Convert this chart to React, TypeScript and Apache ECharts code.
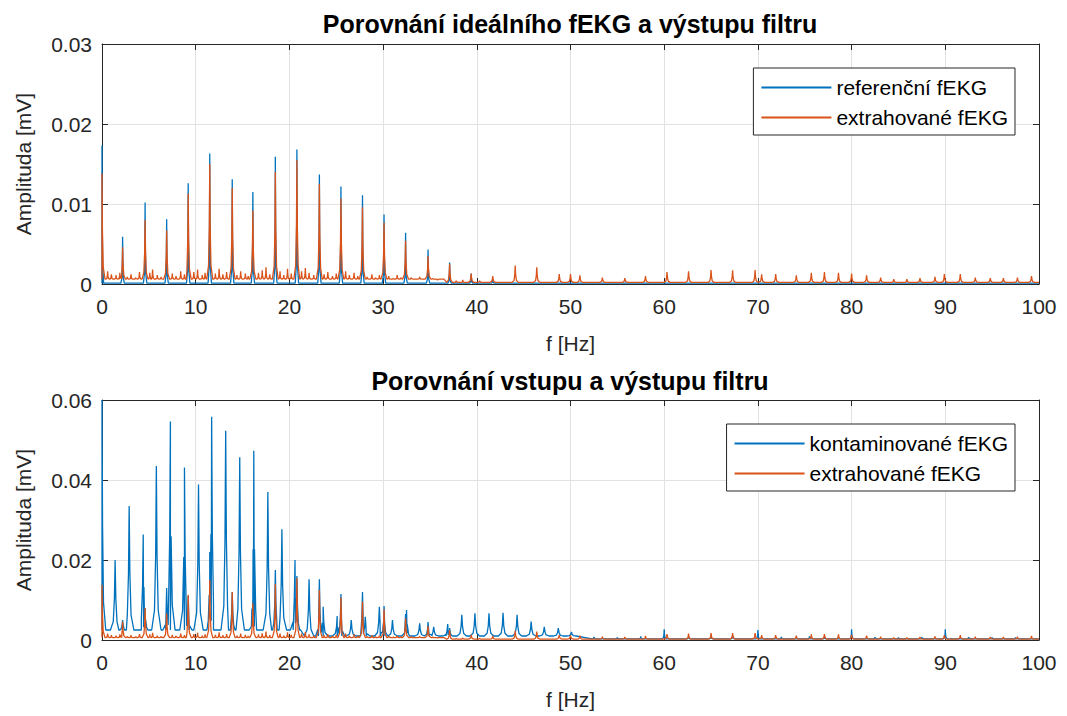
import React, { useEffect, useRef } from "react";
import * as echarts from "echarts";

// ---------- DATA ----------
const titleTop = "Porovnání ideálního fEKG a výstupu filtru";
const titleBottom = "Porovnání vstupu a výstupu filtru";
const xName = "f [Hz]";
const yName = "Amplituda [mV]";
const nameRef = "referenční fEKG";
const nameExt = "extrahované fEKG";
const nameCont = "kontaminované fEKG";

// reference fEKG peaks [Hz, mV]
const refPeaks: number[][] = [
  [0, 0.0173], [2.2, 0.0059], [4.6, 0.0102], [6.9, 0.0081], [9.2, 0.0126], [11.5, 0.0163],
  [13.9, 0.0131], [16.1, 0.0115], [18.5, 0.0159], [20.8, 0.0168], [23.2, 0.0137], [25.5, 0.0122],
  [27.8, 0.0111], [30.1, 0.0087], [32.4, 0.0064], [34.8, 0.0043], [37.1, 0.0027], [39.4, 0.0013],
  [41.7, 0.0006],
];
const refFloor: number[][] = [[100, 0.0001]];

// extracted fEKG peaks
const extPeaks: number[][] = [
  [0, 0.0138], [2.2, 0.0046], [4.6, 0.008], [6.9, 0.0067], [9.2, 0.0113], [11.5, 0.015],
  [13.9, 0.012], [16.1, 0.0092], [18.5, 0.014], [20.8, 0.0155], [23.2, 0.0125], [25.5, 0.0107],
  [27.8, 0.0096], [30.1, 0.0077], [32.4, 0.0054], [34.8, 0.0035], [37.1, 0.0025], [39.4, 0.0013],
  [41.7, 0.001], [44.1, 0.0023], [46.4, 0.0021], [48.8, 0.00125], [50.0, 0.00125], [51.0, 0.0011],
  [53.4, 0.0008], [55.8, 0.00075], [58.0, 0.001], [60.3, 0.0015], [62.6, 0.0016], [65.0, 0.00175],
  [67.3, 0.0017], [69.7, 0.00175], [70.4, 0.0012], [71.9, 0.00125], [74.1, 0.0011], [75.7, 0.0014],
  [77.1, 0.0015], [78.6, 0.0014], [80.0, 0.0013], [81.6, 0.0011], [83.1, 0.0008], [84.5, 0.0006],
  [85.9, 0.0006], [87.3, 0.00075], [88.9, 0.0009], [89.9, 0.00125], [91.6, 0.00125], [93.2, 0.0008],
  [94.8, 0.00075], [96.2, 0.00075], [97.7, 0.0008], [99.2, 0.001],
];
// small bumps of the extracted fEKG's noise floor
const extNoise: number[][] = [
  [0.6, 0.0016], [1.0, 0.0012], [1.5, 0.0011], [1.9, 0.0014], [2.7, 0.0009], [3.1, 0.0012],
  [3.6, 0.0008], [4.0, 0.0015], [5.1, 0.0014], [5.4, 0.0018], [5.9, 0.0011], [6.3, 0.0009],
  [7.5, 0.0013], [7.9, 0.001], [8.4, 0.0016], [8.8, 0.0012], [9.8, 0.0015], [10.2, 0.0018],
  [10.7, 0.0011], [11.0, 0.0014], [12.1, 0.0013], [12.5, 0.0019], [12.9, 0.0012], [13.3, 0.0015],
  [14.4, 0.0011], [14.8, 0.0016], [15.3, 0.0013], [15.6, 0.001], [16.7, 0.0014], [17.1, 0.0017],
  [17.5, 0.0021], [17.9, 0.0012], [19.0, 0.0016], [19.4, 0.0011], [19.8, 0.0019], [20.2, 0.0013],
  [21.3, 0.0016], [21.7, 0.002], [22.1, 0.0014], [22.6, 0.0011], [23.7, 0.0012], [24.1, 0.0015],
  [24.6, 0.001], [25.0, 0.0013], [26.0, 0.0016], [26.4, 0.0011], [26.9, 0.0014], [27.3, 0.001],
  [28.3, 0.0009], [28.8, 0.0012], [29.2, 0.0008], [29.6, 0.0011], [30.6, 0.001], [31.1, 0.0007],
  [31.5, 0.0011], [31.9, 0.0008], [33.0, 0.0008], [33.5, 0.0006], [33.9, 0.0009], [35.3, 0.0007],
  [35.8, 0.0005], [36.3, 0.0006], [37.8, 0.0004], [38.5, 0.0005], [40.3, 0.0004],
];
const extFloor: number[][] = [[37, 0.0006], [100, 0.0002]];

// contaminated fEKG: maternal harmonics, fetal harmonics, power-line/high components
const contMaternal: number[][] = [
  [1.4, 0.02], [2.9, 0.0335], [4.4, 0.0264], [5.8, 0.0435], [7.3, 0.0546], [8.8, 0.0431],
  [10.3, 0.0389], [11.7, 0.0558], [13.2, 0.0523], [14.7, 0.0457], [16.2, 0.0473], [17.7, 0.037],
  [19.2, 0.0277], [20.6, 0.02], [22.1, 0.0152], [23.6, 0.0083], [25.1, 0.006], [26.6, 0.005],
  [28.1, 0.0058], [29.6, 0.0083], [31.0, 0.005], [32.5, 0.0075], [33.9, 0.0042], [35.4, 0.0033],
  [36.9, 0.004], [38.4, 0.0063], [39.8, 0.0067], [41.3, 0.0067], [42.8, 0.0068], [44.3, 0.0063],
  [45.8, 0.0046], [47.2, 0.0033], [48.7, 0.003], [50.1, 0.002],
];
const contFetal: number[][] = [
  [0, 0.06], [2.2, 0.005], [4.6, 0.008], [6.9, 0.013], [9.2, 0.011], [11.5, 0.022], [13.9, 0.012],
  [16.1, 0.01], [18.5, 0.0175], [20.8, 0.016], [23.2, 0.0152], [25.5, 0.0115], [27.8, 0.012],
  [30.1, 0.0085], [32.4, 0.0065], [34.8, 0.0045], [37.1, 0.003],
];
const contHigh: number[][] = [
  [52.5, 0.0008], [55.0, 0.0006], [57.5, 0.0009], [60.0, 0.0027], [62.6, 0.0009], [65.0, 0.001],
  [67.3, 0.0011], [70.0, 0.0025], [72.5, 0.0008], [75.5, 0.0009], [77.1, 0.0008], [80.0, 0.0027],
  [82.5, 0.0007], [85.0, 0.0006], [87.5, 0.0007], [90.0, 0.0027], [92.5, 0.0007], [95.0, 0.0006],
  [97.5, 0.0006],
];
const contFloor: number[][] = [[21, 0.0025], [52, 0.001], [100, 0.0003]];

// ---------- build line data from peaks ----------
function spectrum(groups: { peaks: number[][]; w: number }[], floorSteps: number[][]) {
  const floorAt = (f: number) => {
    for (const [upTo, lvl] of floorSteps) if (f <= upTo) return lvl;
    return floorSteps[floorSteps.length - 1][1];
  };
  const shape = [[-1, 0], [-0.4, 0.12], [-0.15, 0.45], [0, 1], [0.15, 0.45], [0.4, 0.12], [1, 0]];
  const pts: number[][] = [[0, floorAt(0)], [100, floorAt(100)]];
  for (const g of groups) {
    for (const [f, a] of g.peaks) {
      const fl = floorAt(f);
      for (const [k, r] of shape) {
        const x = f + k * g.w;
        if (x < 0 || x > 100) continue;
        pts.push([x, fl + (a - fl) * r]);
      }
    }
  }
  pts.sort((p, q) => p[0] - q[0]);
  return pts;
}

const BLUE = "#0072BD";
const ORANGE = "#D95319";
const AXC = "#262626";
const FONT = "'Liberation Sans', Arial, sans-serif";

export default function App() {
  const ref = useRef<HTMLDivElement>(null);
  useEffect(() => {
    if (!ref.current) return;
    const chart = echarts.init(ref.current, undefined, { renderer: "svg" });

    const refData = spectrum([{ peaks: refPeaks, w: 0.18 }], refFloor);
    const extData = spectrum([{ peaks: extPeaks, w: 0.32 }, { peaks: extNoise, w: 0.2 }], extFloor);
    const contData = spectrum(
      [{ peaks: contMaternal, w: 0.5 }, { peaks: contFetal, w: 0.4 }, { peaks: contHigh, w: 0.2 }],
      contFloor
    );

    const grids = [
      { left: 102, right: 28, top: 44, height: 240 },
      { left: 102, right: 28, top: 400, height: 240 },
    ];
    const mainX = (gi: number) => ({
      type: "value", gridIndex: gi, min: 0, max: 100, interval: 10,
      name: xName, nameLocation: "middle", nameGap: 49,
      nameTextStyle: { fontSize: 21, color: AXC, fontFamily: FONT },
      axisLine: { show: true, onZero: false, lineStyle: { color: AXC, width: 1 } },
      axisTick: { show: true, inside: true, length: 6, lineStyle: { color: AXC } },
      axisLabel: { fontSize: 21, color: AXC, fontFamily: FONT, margin: 12 },
      splitLine: { show: true, lineStyle: { color: "#e2e2e2", width: 1 } },
    });
    const mirrorX = (gi: number) => ({
      type: "value", gridIndex: gi, position: "top", min: 0, max: 100, interval: 10,
      axisLine: { show: true, onZero: false, lineStyle: { color: AXC, width: 1 } },
      axisTick: { show: true, inside: true, length: 6, lineStyle: { color: AXC } },
      axisLabel: { show: false }, splitLine: { show: false },
    });
    const mainY = (gi: number, max: number, interval: number) => ({
      type: "value", gridIndex: gi, min: 0, max, interval,
      name: yName, nameLocation: "middle", nameGap: 68, nameRotate: 90,
      nameTextStyle: { fontSize: 21, color: AXC, fontFamily: FONT },
      axisLine: { show: true, onZero: false, lineStyle: { color: AXC, width: 1 } },
      axisTick: { show: true, inside: true, length: 6, lineStyle: { color: AXC } },
      axisLabel: {
        fontSize: 21, color: AXC, fontFamily: FONT, margin: 10,
        formatter: (v: number) => (v === 0 ? "0" : v.toFixed(2)),
      },
      splitLine: { show: true, lineStyle: { color: "#e2e2e2", width: 1 } },
    });
    const mirrorY = (gi: number, max: number, interval: number) => ({
      type: "value", gridIndex: gi, position: "right", min: 0, max, interval,
      axisLine: { show: true, onZero: false, lineStyle: { color: AXC, width: 1 } },
      axisTick: { show: true, inside: true, length: 6, lineStyle: { color: AXC } },
      axisLabel: { show: false }, splitLine: { show: false },
    });

    const lineSeries = (name: string, data: number[][], color: string, xi: number, yi: number) => ({
      type: "line", name, data, xAxisIndex: xi, yAxisIndex: yi,
      symbol: "none", showSymbol: false, silent: true,
      lineStyle: { color, width: 1.3 }, itemStyle: { color },
      emphasis: { disabled: true },
    });

    const legendCommon = {
      orient: "vertical", right: 52, icon: "rect", itemWidth: 70, itemHeight: 2, itemGap: 9,
      padding: [9, 7, 7, 8], borderColor: AXC, borderWidth: 1, borderRadius: 0,
      backgroundColor: "#fff", selectedMode: false,
      textStyle: { fontSize: 21, lineHeight: 20, color: "#000", fontFamily: FONT },
    };

    chart.setOption({
      animation: false,
      title: [
        { text: titleTop, left: 570, top: 11, textAlign: "center", padding: 0,
          textStyle: { fontSize: 25, fontWeight: "bold", color: "#000", fontFamily: FONT } },
        { text: titleBottom, left: 570, top: 368, textAlign: "center", padding: 0,
          textStyle: { fontSize: 25, fontWeight: "bold", color: "#000", fontFamily: FONT } },
      ],
      grid: grids,
      xAxis: [mainX(0), mirrorX(0), mainX(1), mirrorX(1)],
      yAxis: [mainY(0, 0.03, 0.01), mirrorY(0, 0.03, 0.01), mainY(1, 0.06, 0.02), mirrorY(1, 0.06, 0.02)],
      legend: [
        { ...legendCommon, top: 68, data: [nameRef, nameExt] },
        { ...legendCommon, top: 424, data: [nameCont, nameExt] },
      ],
      series: [
        lineSeries(nameRef, refData, BLUE, 0, 0),
        lineSeries(nameExt, extData, ORANGE, 0, 0),
        lineSeries(nameCont, contData, BLUE, 2, 2),
        lineSeries(nameExt, extData, ORANGE, 2, 2),
      ],
    });
    return () => chart.dispose();
  }, []);

  return (
    <div
      ref={ref}
      style={{ position: "absolute", left: 0, top: 0, width: 1067, height: 716, background: "#fff" }}
    />
  );
}
